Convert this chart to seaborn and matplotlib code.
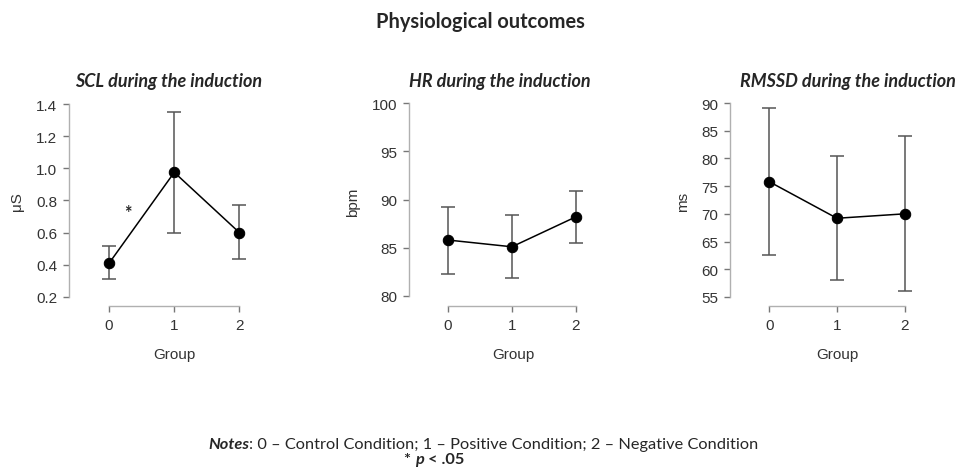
import matplotlib
matplotlib.use('Agg')
import matplotlib.pyplot as plt
import seaborn as sns
import pandas as pd
import numpy as np

# Group means and error bar bounds
groups = [0, 1, 2]

scl_mean = [0.41, 0.975, 0.60]
scl_low = [0.31, 0.60, 0.435]
scl_high = [0.515, 1.35, 0.77]

hr_mean = [85.8, 85.1, 88.2]
hr_low = [82.3, 81.9, 85.5]
hr_high = [89.2, 88.4, 90.9]

rmssd_mean = [75.8, 69.2, 70.0]
rmssd_low = [62.5, 58.1, 56.1]
rmssd_high = [89.1, 80.4, 84.0]

scl_ticks = [0.2, 0.4, 0.6, 0.8, 1.0, 1.2, 1.4]
hr_ticks = [80, 85, 90, 95, 100]
rmssd_ticks = [55, 60, 65, 70, 75, 80, 85, 90]

W, H = 960, 477
sns.set_style('white')
plt.rcParams['font.family'] = ['Liberation Sans', 'DejaVu Sans']

fig = plt.figure(figsize=(W / 100, H / 100), dpi=100)

SPINE = '#b0b0b0'
TEXT = '#333333'


def px_axes(left, right, top, bottom):
    return fig.add_axes([left / W, 1 - bottom / H, (right - left) / W, (bottom - top) / H])


def panel(ax, mean, low, high, ticks, fmt, xlim, ylim):
    df = pd.DataFrame({'Group': groups, 'value': mean})
    yerr = np.array([np.subtract(mean, low), np.subtract(high, mean)])
    ax.errorbar(df['Group'], df['value'], yerr=yerr, fmt='none', ecolor='#555555',
                elinewidth=1.1, capsize=5, capthick=1.1, zorder=1)
    sns.lineplot(data=df, x='Group', y='value', color='black', lw=1.1, marker='o',
                 markersize=7.5, markeredgecolor='black', ax=ax, zorder=2)
    ax.set_xlim(*xlim)
    ax.set_ylim(*ylim)
    ax.set_xticks(groups)
    ax.set_yticks(ticks)
    ax.set_yticklabels([fmt.format(t) for t in ticks])
    ax.spines['top'].set_visible(False)
    ax.spines['right'].set_visible(False)
    ax.spines['left'].set_bounds(ticks[0], ticks[-1])
    ax.spines['bottom'].set_bounds(0, 2)
    for s in ['left', 'bottom']:
        ax.spines[s].set_color(SPINE)
        ax.spines[s].set_linewidth(1.0)
    ax.tick_params(axis='both', direction='out', length=4.5, width=1.0, color='#777777',
                   labelsize=11, labelcolor=TEXT, pad=4, left=True, bottom=True)
    ax.set_xlabel('')
    ax.set_ylabel('')
    ax.patch.set_alpha(0)


# SCL panel
ax1 = px_axes(69, 259, 101, 307)
panel(ax1, scl_mean, scl_low, scl_high, scl_ticks, '{:.1f}',
      (-0.615, 2.3), (0.2 - 9 / 160.8, 1.4 + 4 / 160.8))
ax1.text(0.29, 0.728, '*', ha='center', va='center', fontsize=13, fontweight='bold',
         family='Lato')

# HR panel
ax2 = px_axes(409, 595, 101, 307)
panel(ax2, hr_mean, hr_low, hr_high, hr_ticks, '{:.0f}',
      (-0.61, 2.3), (80 - 10 / 9.65, 100 + 3 / 9.65))

# RMSSD panel
ax3 = px_axes(730, 925, 101, 307)
panel(ax3, rmssd_mean, rmssd_low, rmssd_high, rmssd_ticks, '{:.0f}',
      (-0.58, 2.3), (55 - 9 / 5.51, 90 + 3 / 5.51))

# axis labels
for x, lab in [(17, 'μS'), (353, 'bpm'), (683, 'ms')]:
    fig.text(x / W, 1 - 202 / H, lab, rotation=90, ha='center', va='center',
             fontsize=11, color=TEXT)
for x in [174, 513, 837]:
    fig.text(x / W, 1 - 355 / H, 'Group', ha='center', va='center', fontsize=11, color=TEXT)

# titles
fig.text(480 / W, 1 - 22 / H, 'Physiological outcomes', ha='center', va='center',
         fontsize=14.4, fontweight='bold', family='Lato')
for x, t in [(169, 'SCL during the induction'), (500, 'HR during the induction'),
             (848, 'RMSSD during the induction')]:
    fig.text(x / W, 1 - 81 / H, t, ha='center', va='center', fontsize=13,
             fontweight='bold', style='italic', family='Lato')

# notes, built from pieces so the styles can be mixed
note_size = 11.8
fig.canvas.draw()
r = fig.canvas.get_renderer()

t = fig.text(208 / W, 1 - 452 / H, 'Notes', ha='left', va='bottom', fontsize=note_size,
             fontweight='bold', style='italic', family='Lato')
bb = t.get_window_extent(r)
fig.text(bb.x1 / W, bb.y0 / H,
         ': 0 – Control Condition; 1 – Positive Condition; 2 – Negative Condition',
         fontsize=note_size, family='Lato', ha='left', va='bottom')

t2 = fig.text(404 / W, 1 - 467 / H, '* ', ha='left', va='bottom', fontsize=note_size,
              fontweight='bold', family='Lato')
bb2 = t2.get_window_extent(r)
t3 = fig.text(bb2.x1 / W, bb2.y0 / H, 'p', ha='left', va='bottom', fontsize=note_size,
              fontweight='bold', style='italic', family='Lato')
bb3 = t3.get_window_extent(r)
fig.text(bb3.x1 / W, bb3.y0 / H, ' < .05', ha='left', va='bottom', fontsize=note_size,
         fontweight='bold', family='Lato')

fig.savefig('out.png', dpi=100, facecolor='white')
